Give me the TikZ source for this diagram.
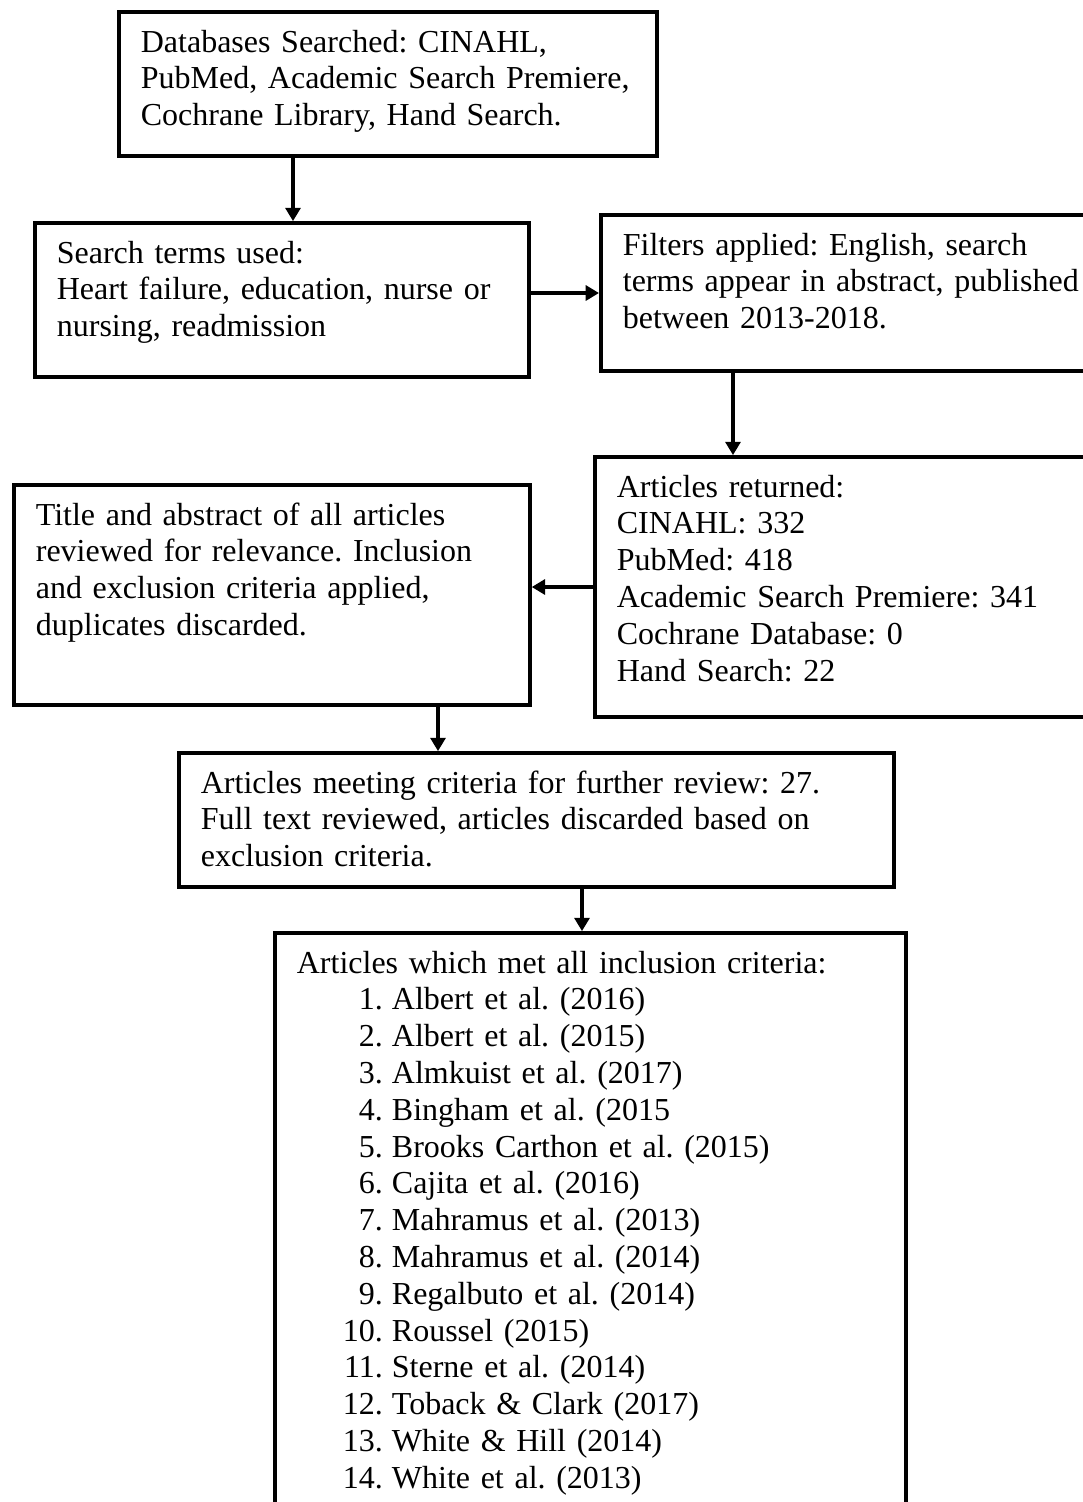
\documentclass[tikz,border=0pt]{standalone}
\usepackage{fontspec}
\setmainfont{Liberation Serif}
\usetikzlibrary{arrows.meta}

\newcommand{\artitem}[2]{\makebox[32.25pt][r]{#1}\hspace{3.4pt}#2}

\begin{document}
\begin{tikzpicture}[x=0.375pt,y=-0.375pt,
	box/.style={draw,line width=1.4pt,inner xsep=8.25pt,inner ysep=0pt,anchor=base west,
		align=left,text height=15pt,font=\fontsize{12}{13.8}\selectfont\frenchspacing},
	arr/.style={line width=1.4pt,-{Triangle[length=5pt,width=5.6pt]}}]
	
	\useasboundingbox (0,0) rectangle (1083,1502);
	
	% each box sits on the baseline of its first line
	\node[box,text width=185.25pt,text depth=39pt] (db) at (117,52)
	{Databases Searched: CINAHL,\\PubMed, Academic Search Premiere,\\Cochrane Library, Hand Search.};
	
	\node[box,text width=168.75pt,text depth=42.75pt] (terms) at (33,263)
	{Search terms used:\\Heart failure, education, nurse or\\nursing, readmission};
	
	\node[box,text width=171.4pt,text depth=43.5pt] (filt) at (599,255)
	{Filters applied: English, search\\terms appear in abstract, published\\between 2013-2018.};
	
	\node[box,text width=173.6pt,text depth=82.5pt] (ret) at (593,497)
	{Articles returned:\\CINAHL: 332\\PubMed: 418\\Academic Search Premiere: 341\\Cochrane Database: 0\\Hand Search: 22};
	
	\node[box,text width=177pt,text depth=67.5pt] (titl) at (12,525)
	{Title and abstract of all articles\\reviewed for relevance. Inclusion\\and exclusion criteria applied,\\duplicates discarded.};
	
	\node[box,text width=251.6pt,text depth=35.25pt] (meet) at (177,793)
	{Articles meeting criteria for further review: 27.\\Full text reviewed, articles discarded based on\\exclusion criteria.};
	
	\node[box,text width=220.1pt,text depth=205pt] (incl) at (273,973)
	{Articles which met all inclusion criteria:\\
		\artitem{1.}{Albert et al. (2016)}\\
		\artitem{2.}{Albert et al. (2015)}\\
		\artitem{3.}{Almkuist et al. (2017)}\\
		\artitem{4.}{Bingham et al. (2015}\\
		\artitem{5.}{Brooks Carthon et al. (2015)}\\
		\artitem{6.}{Cajita et al. (2016)}\\
		\artitem{7.}{Mahramus et al. (2013)}\\
		\artitem{8.}{Mahramus et al. (2014)}\\
		\artitem{9.}{Regalbuto et al. (2014)}\\
		\artitem{10.}{Roussel (2015)}\\
		\artitem{11.}{Sterne et al. (2014)}\\
		\artitem{12.}{Toback \& Clark (2017)}\\
		\artitem{13.}{White \& Hill (2014)}\\
		\artitem{14.}{White et al. (2013)}};
	
	% columns of the vertical arrows
	\coordinate (xa) at (293,0);
	\coordinate (xb) at (733,0);
	\coordinate (xc) at (438,0);
	\coordinate (xd) at (582,0);
	
	\draw[arr] (db.south -| xa) -- (terms.north -| xa);
	\draw[arr] (terms.east |- filt.west) -- (filt.west);
	\draw[arr] (filt.south -| xb) -- (ret.north -| xb);
	\draw[arr] (ret.west) -- (titl.east |- ret.west);
	\draw[arr] (titl.south -| xc) -- (meet.north -| xc);
	\draw[arr] (meet.south -| xd) -- (incl.north -| xd);
\end{tikzpicture}
\end{document}
